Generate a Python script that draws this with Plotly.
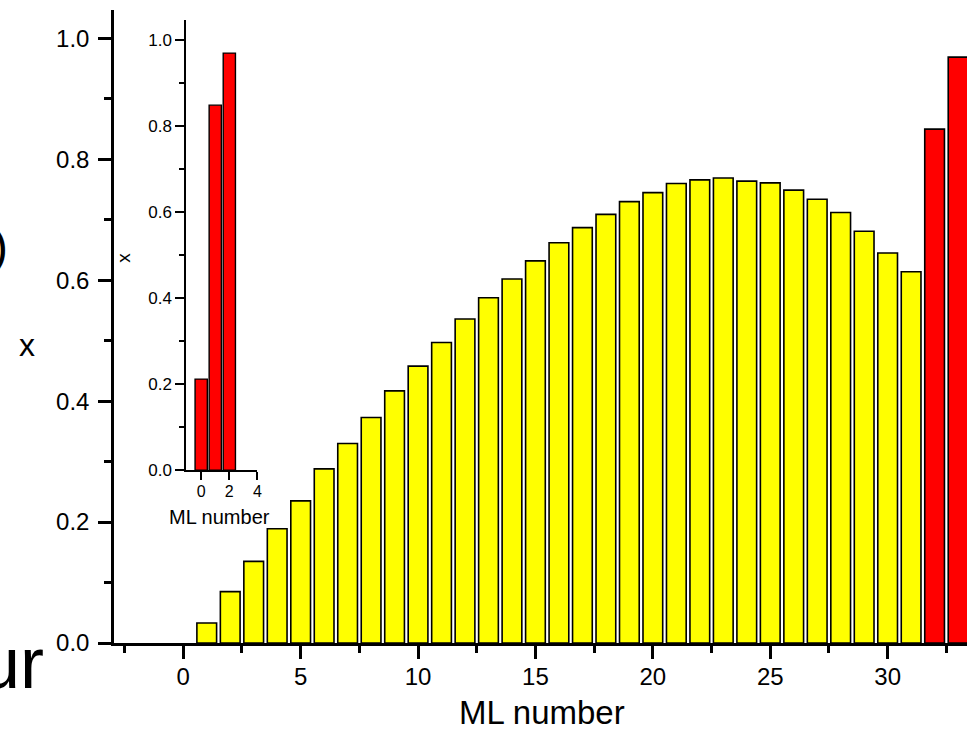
import plotly.graph_objects as go

# ---- data ----
ml_yellow = list(range(1, 32))
x_yellow = [0.033, 0.085, 0.135, 0.189, 0.235, 0.288, 0.330, 0.373, 0.417, 0.458,
            0.497, 0.536, 0.571, 0.602, 0.632, 0.662, 0.687, 0.709, 0.730, 0.745,
            0.760, 0.766, 0.769, 0.764, 0.761, 0.749, 0.734, 0.712, 0.681, 0.645,
            0.614]
ml_red = [32, 33]
x_red = [0.850, 0.969]

ml_inset = [0, 1, 2]
x_inset = [0.212, 0.849, 0.970]

main_xticks = [0, 5, 10, 15, 20, 25, 30]
main_yticks = [0.0, 0.2, 0.4, 0.6, 0.8, 1.0]
inset_xticks = [0, 2, 4]
inset_yticks = [0.0, 0.2, 0.4, 0.6, 0.8, 1.0]

# ---- layout geometry ----
W, H = 972, 736
L, R, T, B = 114, 0, 10, 92.7
pw, ph = W - L - R, H - T - B


def px(xp):
    return (xp - L) / pw


def py(yp):
    return (H - B - yp) / ph


FONT = "Arial, 'Liberation Sans', sans-serif"
YELLOW = "#FFFF00"
RED = "#FF0000"

fig = go.Figure()
fig.add_trace(go.Bar(x=ml_yellow, y=x_yellow, width=0.84,
                     marker=dict(color=YELLOW, line=dict(color="black", width=1.6)),
                     xaxis="x", yaxis="y", showlegend=False))
fig.add_trace(go.Bar(x=ml_red, y=x_red, width=0.84,
                     marker=dict(color=RED, line=dict(color="black", width=1.6)),
                     xaxis="x", yaxis="y", showlegend=False))
fig.add_trace(go.Bar(x=ml_inset, y=x_inset, width=0.87,
                     marker=dict(color=RED, line=dict(color="black", width=1.4)),
                     xaxis="x2", yaxis="y2", showlegend=False))

axis_common = dict(showgrid=False, zeroline=False, showline=True, linecolor="black",
                   ticks="outside", tickcolor="black")

fig.update_layout(
    width=W, height=H,
    margin=dict(l=L, r=R, t=T, b=B),
    paper_bgcolor="white", plot_bgcolor="white",
    font=dict(family=FONT, color="black"),
    barmode="overlay",
    xaxis=dict(**axis_common, range=[-2.95, 33.38], linewidth=2.5, tickwidth=2.5, ticklen=13,
               tickvals=main_xticks, tickfont=dict(size=24, family=FONT),
               ticklabelstandoff=-3,
               minor=dict(ticks="outside", dtick=2.5, tick0=0, ticklen=7, tickwidth=2.5,
                          tickcolor="black"),
               domain=[0, 1]),
    yaxis=dict(**axis_common, range=[0, 1.047], linewidth=2.5, tickwidth=2.5, ticklen=13,
               tickvals=main_yticks, ticktext=[f"{v:.1f}" for v in main_yticks],
               tickfont=dict(size=24, family=FONT), ticklabelstandoff=4,
               minor=dict(ticks="outside", dtick=0.1, tick0=0, ticklen=7, tickwidth=2.5,
                          tickcolor="black"),
               domain=[0, 1]),
    xaxis2=dict(**axis_common, range=[-1.06, 4], linewidth=1.8, tickwidth=1.8, ticklen=8,
                tickvals=inset_xticks, tickfont=dict(size=16, family=FONT),
                ticklabelstandoff=-2,
                domain=[px(186.7), px(258.3)], anchor="y2"),
    yaxis2=dict(**axis_common, range=[0, 1.047], linewidth=1.8, tickwidth=1.8, ticklen=9,
                tickvals=inset_yticks, ticktext=[f"{v:.1f}" for v in inset_yticks],
                tickfont=dict(size=17, family=FONT),
                minor=dict(ticks="outside", dtick=0.1, tick0=0, ticklen=5, tickwidth=1.8,
                           tickcolor="black"),
                domain=[py(470.5), py(20)], anchor="x2"),
)

ann = [
    dict(text="ML number", x=px(545), y=py(713), size=33),
    dict(text="x", x=px(26), y=py(345), size=32),
    dict(text="ML number", x=px(220), y=py(517), size=20),
    dict(text="x", x=px(124), y=py(258), size=19, angle=-90),
]
for a in ann:
    fig.add_annotation(text=a["text"], x=a["x"], y=a["y"], xref="paper", yref="paper",
                       showarrow=False, xanchor="center", yanchor="middle",
                       textangle=a.get("angle", 0),
                       font=dict(size=a["size"], family=FONT, color="black"))

# cropped text fragments at left edge of the original figure
fig.add_annotation(text="ur", x=px(46), y=py(663), xref="paper", yref="paper",
                   showarrow=False, xanchor="right", yanchor="middle",
                   font=dict(size=72, family=FONT, color="black"))
fig.add_annotation(text=")", x=px(9), y=py(247), xref="paper", yref="paper",
                   showarrow=False, xanchor="right", yanchor="middle",
                   font=dict(size=48, family=FONT, color="black"))

fig.write_html("out.html")
